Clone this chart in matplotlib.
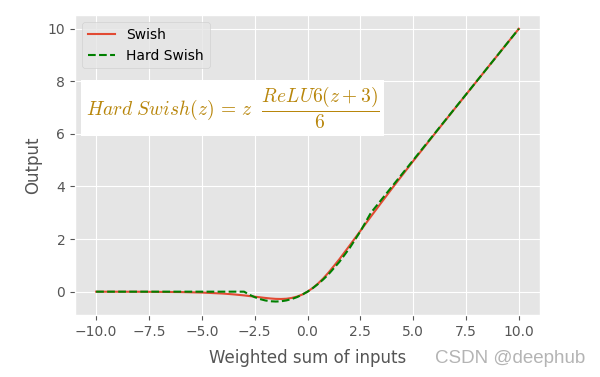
import matplotlib.pyplot as plt

plt.style.use('ggplot')
plt.rcParams['mathtext.fontset'] = 'cm'

# values
x_swish = [-10, -8, -6, -5, -4, -3.5, -3, -2.5, -2, -1.75, -1.5, -1.25, -1, -0.75, -0.5, -0.25,
           0, 0.25, 0.5, 0.75, 1, 1.5, 2, 2.5, 3, 3.5, 4, 5, 6, 7, 8, 9, 10]
y_swish = [-0.0005, -0.003, -0.015, -0.034, -0.072, -0.103, -0.142, -0.19, -0.238, -0.259,
           -0.274, -0.278, -0.269, -0.239, -0.189, -0.110, 0, 0.141, 0.311, 0.508, 0.731,
           1.226, 1.762, 2.31, 2.858, 3.395, 3.928, 4.967, 5.985, 6.994, 7.997, 8.999, 10]

x_hard = [-10, -3, -2.75, -2.5, -2.25, -2, -1.75, -1.5, -1.25, -1, -0.75, -0.5, -0.25,
          0, 0.25, 0.5, 0.75, 1, 1.5, 2, 2.5, 3, 10]
y_hard = [0, 0, -0.115, -0.208, -0.281, -0.333, -0.365, -0.375, -0.365, -0.333, -0.281,
          -0.208, -0.115, 0, 0.135, 0.292, 0.469, 0.667, 1.125, 1.667, 2.292, 3, 10]

fig = plt.figure(figsize=(6, 3.77), dpi=100)
plt.subplots_adjust(left=0.125, right=0.9, top=0.96, bottom=0.164)

plt.plot(x_swish, y_swish, label='Swish')
plt.plot(x_hard, y_hard, '--', color='green', label='Hard Swish')
plt.xticks([-10, -7.5, -5, -2.5, 0, 2.5, 5, 7.5, 10])
plt.xlabel('Weighted sum of inputs', labelpad=7)
plt.ylabel('Output')
plt.legend(loc='upper left')

plt.text(-10.5, 7.0, r'$Hard\ Swish(z)\, =\, z\ \ \dfrac{ReLU6(z+3)}{6}$', fontsize=14,
         va='center', color='darkgoldenrod',
         bbox=dict(facecolor='white', edgecolor='none', pad=3.5))

fig.text(0.975, 0.05, 'CSDN @deephub', ha='right', va='center', fontsize=13.5,
         family='Liberation Sans', color='#b4b4b4')

plt.savefig('out.png')
